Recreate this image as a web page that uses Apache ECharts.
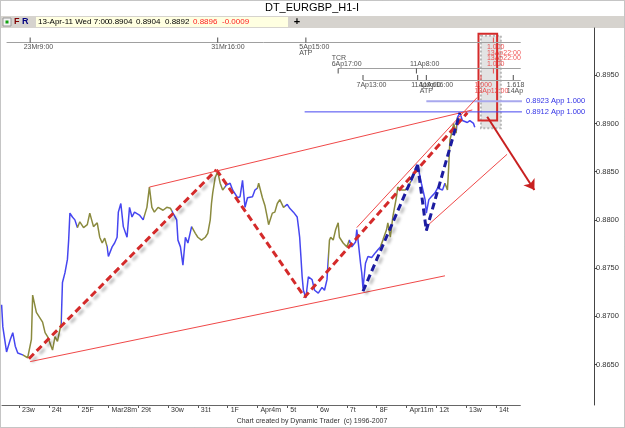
<!DOCTYPE html>
<html>
<head>
<meta charset="utf-8">
<script src="https://cdn.jsdelivr.net/npm/echarts@6/dist/echarts.min.js"></script>
<style>
html,body{margin:0;padding:0;background:#fff;}
#main{width:625px;height:428px;}
</style>
</head>
<body>
<div id="main"></div>
<script>
// hour index counted from 23-Mar-11 0:00 (weekends removed, 24 bars a day)
var hours = [-14,-13,-10,-7,-5,-3,-1,3,7,10,11,14,19,21,23,27,29,31,34,35,37,39,40,41,43,45,47,49,52,55,57,60,63,65,67,69,71,72,75,77,79,80,82,84,87,89,91,93,97,100,103,105,107,109,112,116,119,122,124,127,128,130,132,134,136,139,142,144,147,150,152,154,155,156,158,160,162,164,167,170,172,176,178,180,182,184,188,190,192,193,196,198,200,201,204,206,208,210,213,216,218,221,224,225,226,227,228,229,231,233,236,238,241,244,246,248,250,251,253,255,257,258,261,264,266,268,271,272,273,275,276,277,279,281,284,287,289,291,293,296,297,299,301,304,305,308,311,313,316,319,321,324,327,328,330,332,335,337,341,343,345,346,347,349,350,352,353,355,357,361,363,366,367];
var closes = [0.8712,0.8689,0.8663,0.8676,0.8683,0.8669,0.8662,0.8660,0.8657,0.8676,0.8722,0.8704,0.8694,0.8683,0.8679,0.8665,0.8679,0.8674,0.8693,0.8735,0.8745,0.8759,0.8779,0.8807,0.8803,0.8800,0.8792,0.8798,0.8792,0.8795,0.8807,0.8793,0.8797,0.8782,0.8776,0.8781,0.8772,0.8762,0.8772,0.8776,0.8782,0.8808,0.8817,0.8793,0.8782,0.8813,0.8803,0.8808,0.8805,0.8800,0.8813,0.8834,0.8813,0.8808,0.8813,0.8810,0.8813,0.8812,0.8807,0.8800,0.8779,0.8772,0.8753,0.8782,0.8776,0.8793,0.8786,0.8782,0.8779,0.8782,0.8786,0.8800,0.8817,0.8828,0.8844,0.8850,0.8838,0.8831,0.8836,0.8838,0.8831,0.8823,0.8824,0.8841,0.8813,0.8823,0.8824,0.8831,0.8833,0.8838,0.8823,0.8815,0.8802,0.8795,0.8807,0.8808,0.8817,0.8821,0.8813,0.8816,0.8812,0.8808,0.8803,0.8793,0.8782,0.8762,0.8741,0.8727,0.8719,0.8741,0.8738,0.8727,0.8724,0.8730,0.8727,0.8738,0.8779,0.8782,0.8779,0.8790,0.8797,0.8782,0.8776,0.8772,0.8779,0.8772,0.8777,0.8790,0.8779,0.8755,0.8745,0.8729,0.8755,0.8762,0.8761,0.8766,0.8769,0.8772,0.8779,0.8790,0.8797,0.8782,0.8803,0.8824,0.8834,0.8831,0.8831,0.8834,0.8841,0.8852,0.8857,0.8838,0.8821,0.8807,0.8821,0.8824,0.8828,0.8833,0.8831,0.8838,0.8831,0.8855,0.8883,0.8893,0.8900,0.8890,0.8906,0.8911,0.8903,0.8901,0.8903,0.8900,0.8896];
// bar colour flips (blue / olive) at these hours
var colorBreaks = [3,34,47,71,101,123,139,166,192,214,249,266,291,316,343,353];

var dayTicks = [0,24,48,72,96,120,144,168,192,216,240,264,288,312,336,360,384];
var dayLabels = ['23w','24t','25F','Mar28m','29t','30w','31t','1F','Apr4m','5t','6w','7t','8F','Apr11m','12t','13w','14t'];
var priceTicks = [0.865,0.870,0.875,0.880,0.885,0.890,0.895];
var lastClose = 0.8896;

// swing pattern (red) and inner swing (blue)
var abcHours = [8,159,230,361];
var abcPrices = [0.8656,0.8852,0.8720,0.8911];
var wxyHours = [277,321,328,355];
var wxyPrices = [0.8726,0.8857,0.8789,0.8911];

// thin red channel lines
var chanH1 = [9,105,272,328];
var chanP1 = [0.8653,0.8834,0.8792,0.8793];
var chanH2 = [343,365,369,393];
var chanP2 = [0.8742,0.8914,0.8927,0.8868];

// price targets
var targetPrices = [0.8912,0.8923];
var targetFrom = [230,328];
var targetTo = 405;

// time projection rows at top
var rowLevels = [0.8984,0.8957,0.8945];
var rowStart = [-10,257,277];
var rowEnd = 404;
var row1H = [9,160,231], row1T = ['23Mr9:00','31Mr16:00','5Ap15:00\nATP'];
var row2H = [257,320], row2T = ['TCR\n6Ap17:00','11Ap8:00'];
var row3H = [277,321,328,398], row3T = ['7Ap13:00','11Ap9:00','11Ap16:00\nATP','1.618\n14Ap'];
var redRow1H = [382], redRow1T = ['1.000\n13Ap22:00'];
var redRow2H = [382], redRow2T = ['13Ap22:00\n1.000'];
var redRow3H = [372], redRow3T = ['1.000\n13Ap12:00'];

// time box and projected move
var boxH = [370,385], boxP = [0.8993,0.8903];
var arrowH = [377,415], arrowP = [0.8907,0.8831];

var FONT = 'Liberation Sans';
var BLUE = '#4646f0', OLIVE = '#8a8a3e', RED = '#d42a2a';
var yMin = 0.8608, yMax = 0.8999;

function pts(hs, ps) { return hs.map(function (h, k) { return [h, ps[k]]; }); }

var pieces = [{lt: colorBreaks[0], color: BLUE}];
for (var k = 0; k < colorBreaks.length - 1; k++) {
  pieces.push({gte: colorBreaks[k], lt: colorBreaks[k + 1], color: k % 2 === 0 ? OLIVE : BLUE});
}
pieces.push({gte: colorBreaks[colorBreaks.length - 1], color: colorBreaks.length % 2 === 1 ? OLIVE : BLUE});

var chanLines = chanH1.map(function (h, k) {
  return [{coord: [h, chanP1[k]]}, {coord: [chanH2[k], chanP2[k]]}];
});
var rowLines = rowLevels.map(function (lv, k) {
  return [{coord: [rowStart[k], lv]}, {coord: [rowEnd, lv]}];
});

var shadow = {shadowColor: 'rgba(0,0,0,0.28)', shadowBlur: 3, shadowOffsetX: 3, shadowOffsetY: 3};

function rowSeries(hs, texts, level, up, color) {
  return {
    type: 'scatter', symbol: 'rect', symbolSize: [1, 5], symbolOffset: [0, up ? -2.5 : 2.5],
    silent: true, z: 6, itemStyle: {color: color},
    data: hs.map(function (h, k) { return {value: [h, level], name: texts[k]}; }),
    label: {
      show: true, formatter: '{b}', position: up ? [-6, 7] : [-6, -1],
      align: 'left', verticalAlign: up ? 'top' : 'bottom',
      fontSize: 7, lineHeight: 6, color: color, fontFamily: FONT
    }
  };
}

function targetSeries(k, color, width) {
  return {
    type: 'line', silent: true, showSymbol: false, z: 3,
    data: [[targetFrom[k], targetPrices[k]], [targetTo, targetPrices[k]]],
    lineStyle: {color: color, width: width},
    endLabel: {show: true, formatter: targetPrices[k].toFixed(4) + ' App 1.000', color: '#3232e6',
      fontSize: 7.5, fontFamily: FONT, distance: 4}
  };
}

var chart = echarts.init(document.getElementById('main'));
var option = {
  backgroundColor: '#fff',
  animation: false,
  grid: {left: 1.6, right: 31, top: 28, bottom: 23, containLabel: false, outerBoundsMode: 'none'},
  xAxis: {
    type: 'value', min: -14, max: 463,
    splitLine: {show: false},
    axisLine: {show: false, onZero: false},
    axisTick: {show: true, customValues: dayTicks, length: 3, lineStyle: {color: '#555'}},
    axisLabel: {
      customValues: dayTicks, align: 'left', padding: [0, 0, 0, 3], margin: 2,
      fontSize: 7, color: '#333', fontFamily: FONT,
      formatter: function (v) { return dayLabels[dayTicks.indexOf(v)] || ''; }
    }
  },
  yAxis: {
    type: 'value', position: 'right', min: yMin, max: yMax, scale: true,
    splitLine: {show: false},
    axisLine: {show: true, onZero: false, lineStyle: {color: '#444'}},
    axisTick: {show: true, customValues: priceTicks, length: 3, lineStyle: {color: '#444'}},
    axisLabel: {
      customValues: priceTicks, margin: 2, fontSize: 7.5, color: '#333', fontFamily: FONT,
      formatter: function (v) { return v.toFixed(4); }
    }
  },
  visualMap: {type: 'piecewise', show: false, dimension: 0, seriesIndex: 0, pieces: pieces},
  series: [
    {
      name: 'EURGBP', type: 'line', showSymbol: false, silent: true, z: 2,
      data: pts(hours, closes),
      lineStyle: {width: 1.5},
      markLine: {
        silent: true, symbol: 'none', animation: false,
        lineStyle: {opacity: 0},
        label: {show: true, position: 'end', distance: 1, formatter: lastClose.toFixed(4),
          backgroundColor: '#ffff00', color: '#000', padding: [1, 8, 0, 2], fontSize: 7.5, fontFamily: FONT},
        data: [{yAxis: lastClose}]
      }
    },
    {
      type: 'line', silent: true, showSymbol: false, z: 3, data: [],
      markLine: {silent: true, symbol: 'none', label: {show: false},
        lineStyle: {color: '#f04848', width: 1, type: 'solid'}, data: chanLines}
    },
    {
      type: 'line', silent: true, showSymbol: false, z: 4,
      data: pts(abcHours.slice(0, 2), abcPrices.slice(0, 2)),
      lineStyle: Object.assign({color: RED, width: 3, type: [7, 4]}, shadow)
    },
    {
      type: 'line', silent: true, showSymbol: false, z: 4,
      data: pts(abcHours.slice(1), abcPrices.slice(1)),
      lineStyle: {color: RED, width: 3, type: [7, 4]}
    },
    {
      type: 'line', silent: true, showSymbol: false, z: 5,
      data: pts(wxyHours.slice(0, 2), wxyPrices.slice(0, 2)),
      lineStyle: Object.assign({color: '#1c1ca0', width: 3, type: [7, 4]}, shadow)
    },
    {
      type: 'line', silent: true, showSymbol: false, z: 5,
      data: pts(wxyHours.slice(1), wxyPrices.slice(1)),
      lineStyle: {color: '#1c1ca0', width: 3, type: [7, 4]}
    },
    targetSeries(0, '#4646f0', 1),
    targetSeries(1, '#a8a8ee', 2),
    {
      type: 'line', silent: true, showSymbol: false, z: 1, data: [], clip: false,
      markLine: {silent: true, symbol: 'none', label: {show: false},
        lineStyle: {color: '#a0a0a0', width: 1, type: 'solid'},
        data: rowLines.concat([[{coord: [-14, yMin], lineStyle: {color: '#666'}}, {coord: [rowEnd, yMin]}]])},
      markArea: {
        silent: true,
        data: [
          [{coord: [boxH[0] + 2, boxP[0] - 0.0002], itemStyle: {color: 'rgba(175,175,175,0.35)', borderColor: '#b8b8b8', borderWidth: 2, borderType: 'dotted'}},
           {coord: [boxH[1] + 3, boxP[1] - 0.0008]}],
          [{coord: [boxH[0], boxP[0]], itemStyle: {color: 'rgba(0,0,0,0)', borderColor: RED, borderWidth: 2}},
           {coord: [boxH[1], boxP[1]]}]
        ]
      }
    },
    {
      type: 'line', silent: true, showSymbol: false, z: 7, data: [],
      markLine: {silent: true, symbol: ['none', 'arrow'], symbolSize: 10, label: {show: false},
        lineStyle: {color: '#c82020', width: 2, type: 'solid'},
        data: [[{coord: [arrowH[0], arrowP[0]]}, {coord: [arrowH[1], arrowP[1]]}]]}
    },
    rowSeries(row1H, row1T, rowLevels[0], true, '#222'),
    rowSeries(row2H, row2T, rowLevels[1], false, '#222'),
    rowSeries(row3H, row3T, rowLevels[2], true, '#222'),
    rowSeries(redRow1H, redRow1T, rowLevels[0], true, '#ee2a2a'),
    rowSeries(redRow2H, redRow2T, rowLevels[1], false, '#ee2a2a'),
    rowSeries(redRow3H, redRow3T, rowLevels[2], true, '#ee2a2a')
  ],
  graphic: [
    {type: 'rect', shape: {x: 0.5, y: 0.5, width: 624, height: 427}, style: {fill: 'none', stroke: '#8a8a8a', lineDash: [1, 1]}, z: 10},
    {type: 'text', x: 312, y: 2, style: {text: 'DT_EURGBP_H1-I', font: '11px ' + FONT, fill: '#000', align: 'center', verticalAlign: 'top'}},
    {type: 'rect', shape: {x: 1, y: 16, width: 623, height: 12}, style: {fill: '#d6d3ce'}},
    {type: 'rect', shape: {x: 3, y: 18, width: 8, height: 8}, style: {fill: '#f4f4f4', stroke: '#999'}},
    {type: 'rect', shape: {x: 5.5, y: 20.5, width: 3, height: 3}, style: {fill: '#10a010'}},
    {type: 'text', x: 14, y: 22, style: {text: 'F', font: 'bold 9px ' + FONT, fill: '#800000', verticalAlign: 'middle'}},
    {type: 'text', x: 22, y: 22, style: {text: 'R', font: 'bold 9px ' + FONT, fill: '#000080', verticalAlign: 'middle'}},
    {type: 'rect', shape: {x: 36, y: 17, width: 252, height: 10}, style: {fill: '#ffffe1'}},
    {type: 'text', x: 38, y: 22, style: {text: '13-Apr-11 Wed 7:00', font: '8px ' + FONT, fill: '#000', verticalAlign: 'middle'}},
    {type: 'text', x: 108, y: 22, style: {text: '0.8904', font: '8px ' + FONT, fill: '#000', verticalAlign: 'middle'}},
    {type: 'text', x: 136, y: 22, style: {text: '0.8904', font: '8px ' + FONT, fill: '#000', verticalAlign: 'middle'}},
    {type: 'text', x: 165, y: 22, style: {text: '0.8892', font: '8px ' + FONT, fill: '#000', verticalAlign: 'middle'}},
    {type: 'text', x: 193, y: 22, style: {text: '0.8896', font: '8px ' + FONT, fill: '#ff2020', verticalAlign: 'middle'}},
    {type: 'text', x: 222, y: 22, style: {text: '-0.0009', font: '8px ' + FONT, fill: '#ff2020', verticalAlign: 'middle'}},
    {type: 'text', x: 297, y: 22, style: {text: '+', font: 'bold 11px ' + FONT, fill: '#000', align: 'center', verticalAlign: 'middle'}},
    {type: 'text', x: 312, y: 421, style: {text: 'Chart created by Dynamic Trader  (c) 1996-2007', font: '7px ' + FONT, fill: '#333', align: 'center', verticalAlign: 'middle'}}
  ]
};
chart.setOption(option);
</script>
</body>
</html>
